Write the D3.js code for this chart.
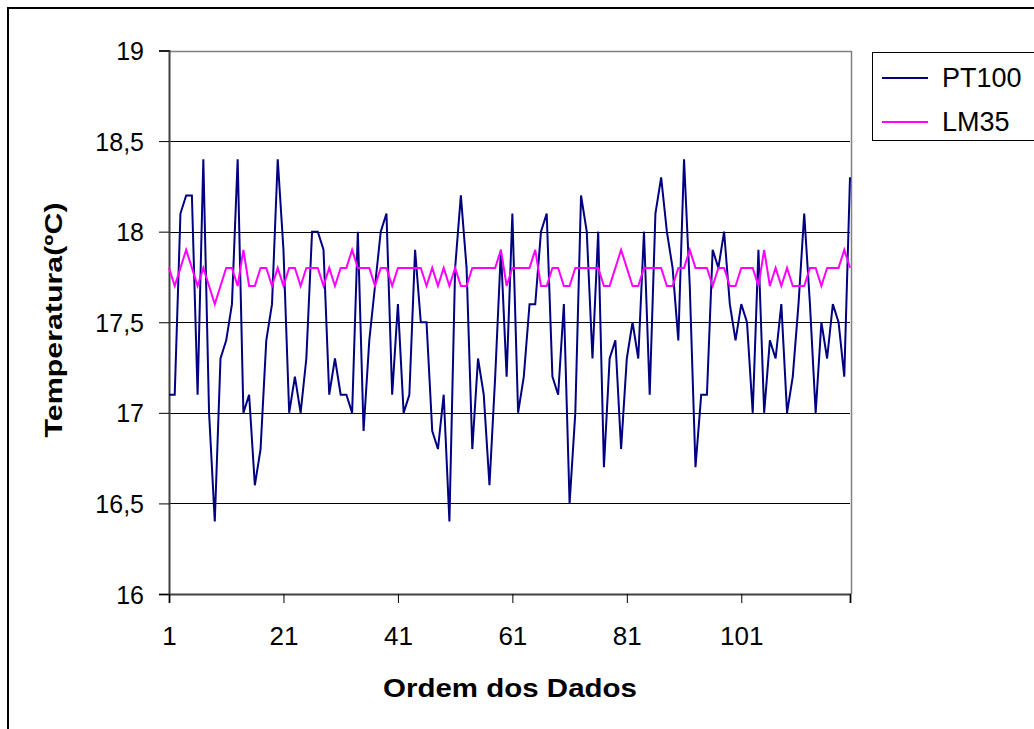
<!DOCTYPE html>
<html>
<head>
  <meta charset="UTF-8">
  <title>Temperatura PT100 x LM35</title>
  <script src="https://cdnjs.cloudflare.com/ajax/libs/d3/7.8.5/d3.min.js"></script>
</head>
<style type="text/css">
body {
  margin: 0;
  background: #fff;
}
svg text {
  font-family: "Liberation Sans", Arial, sans-serif;
  fill: #000;
}
</style>
<body>
  <svg id="chart"></svg>
</body>
<script type="text/javascript">
// Data, 120 samples each
var pt100 = [
  17.1, 17.1, 18.1, 18.2, 18.2, 17.1, 18.4, 17.0, 16.4, 17.3,
  17.4, 17.6, 18.4, 17.0, 17.1, 16.6, 16.8, 17.4, 17.6, 18.4,
  17.9, 17.0, 17.2, 17.0, 17.3, 18.0, 18.0, 17.9, 17.1, 17.3,
  17.1, 17.1, 17.0, 18.0, 16.9, 17.4, 17.7, 18.0, 18.1, 17.1,
  17.6, 17.0, 17.1, 17.9, 17.5, 17.5, 16.9, 16.8, 17.1, 16.4,
  17.8, 18.2, 17.8, 16.8, 17.3, 17.1, 16.6, 17.2, 17.9, 17.2,
  18.1, 17.0, 17.2, 17.6, 17.6, 18.0, 18.1, 17.2, 17.1, 17.6,
  16.5, 17.0, 18.2, 18.0, 17.3, 18.0, 16.7, 17.3, 17.4, 16.8,
  17.3, 17.5, 17.3, 18.0, 17.1, 18.1, 18.3, 18.0, 17.8, 17.4,
  18.4, 17.7, 16.7, 17.1, 17.1, 17.9, 17.8, 18.0, 17.6, 17.4,
  17.6, 17.5, 17.0, 17.9, 17.0, 17.4, 17.3, 17.6, 17.0, 17.2,
  17.6, 18.1, 17.6, 17.0, 17.5, 17.3, 17.6, 17.5, 17.2, 18.3
];

var lm35 = [
  17.8, 17.7, 17.8, 17.9, 17.8, 17.7, 17.8, 17.7, 17.6, 17.7,
  17.8, 17.8, 17.7, 17.9, 17.7, 17.7, 17.8, 17.8, 17.7, 17.8,
  17.7, 17.8, 17.8, 17.7, 17.8, 17.8, 17.8, 17.7, 17.8, 17.7,
  17.8, 17.8, 17.9, 17.8, 17.8, 17.8, 17.7, 17.8, 17.8, 17.7,
  17.8, 17.8, 17.8, 17.8, 17.8, 17.7, 17.8, 17.7, 17.8, 17.7,
  17.8, 17.7, 17.7, 17.8, 17.8, 17.8, 17.8, 17.8, 17.9, 17.7,
  17.8, 17.8, 17.8, 17.8, 17.9, 17.7, 17.7, 17.8, 17.8, 17.7,
  17.7, 17.8, 17.8, 17.8, 17.8, 17.8, 17.7, 17.7, 17.8, 17.9,
  17.8, 17.7, 17.7, 17.8, 17.8, 17.8, 17.8, 17.7, 17.7, 17.8,
  17.8, 17.9, 17.8, 17.8, 17.8, 17.7, 17.8, 17.8, 17.7, 17.7,
  17.8, 17.8, 17.8, 17.7, 17.9, 17.7, 17.8, 17.7, 17.8, 17.7,
  17.7, 17.7, 17.8, 17.8, 17.7, 17.8, 17.8, 17.8, 17.9, 17.8
];

var seriesNames = ["PT100", "LM35"];
var seriesColors = ["#000080", "#ff00ff"];
var xTicks = [1, 21, 41, 61, 81, 101];
var yTicks = [16, 16.5, 17, 17.5, 18, 18.5, 19];

// Size & plot area
var width = 1034,
    height = 729,
    plotLeft = 169, plotRight = 850, plotTop = 50.5, plotBottom = 594;

var svg = d3.select("#chart")
  .attr("width", width)
  .attr("height", height);

// Outer chart frame (runs off the page on right and bottom)
svg.append("rect")
  .attr("x", 8).attr("y", 8)
  .attr("width", 1100).attr("height", 800)
  .attr("fill", "#fff")
  .attr("stroke", "#000")
  .attr("stroke-width", 2);

var x = d3.scaleLinear().domain([1, pt100.length]).range([plotLeft, plotRight]);
var y = d3.scaleLinear().domain([16, 19]).range([plotBottom, plotTop]);

// Gridlines
svg.append("g")
  .selectAll("line")
  .data(yTicks.filter(function (d) { return d > 16 && d < 19; }))
  .enter().append("line")
  .attr("x1", plotLeft).attr("x2", plotRight)
  .attr("y1", function (d) { return Math.round(y(d)) + 0.5; })
  .attr("y2", function (d) { return Math.round(y(d)) + 0.5; })
  .attr("stroke", "#000")
  .attr("stroke-width", 1);

// Plot border (top + right)
svg.append("path")
  .attr("d", "M" + plotLeft + "," + (Math.round(plotTop) + 0.5) + "H" + (plotRight + 1.5) + "V" + plotBottom)
  .attr("fill", "none")
  .attr("stroke", "#808080")
  .attr("stroke-width", 1.5);

// Y axis
var yAxis = d3.axisLeft(y)
  .tickValues(yTicks)
  .tickSize(10)
  .tickPadding(15)
  .tickFormat(function (d) { return String(d).replace(".", ","); });

var gy = svg.append("g")
  .attr("transform", "translate(" + plotLeft + ",0)")
  .call(yAxis);
gy.select(".domain").attr("stroke", "#404040").attr("stroke-width", 2);
gy.selectAll(".tick line").attr("stroke", "#000");
gy.selectAll(".tick text")
  .style("font-size", "25px")
  .attr("dy", "0.36em");

// X axis
var xAxis = d3.axisBottom(x)
  .tickValues(xTicks.concat([pt100.length]))
  .tickSize(9)
  .tickPadding(24)
  .tickFormat(function (d) { return xTicks.indexOf(d) >= 0 ? d : ""; });

var gx = svg.append("g")
  .attr("transform", "translate(0," + plotBottom + ")")
  .call(xAxis);
gx.select(".domain").attr("stroke", "#404040").attr("stroke-width", 2);
gx.selectAll(".tick line").attr("stroke", "#000");
gx.selectAll(".tick text")
  .style("font-size", "26px");

// Lines
var line = d3.line()
  .x(function (d, i) { return x(i + 1); })
  .y(function (d) { return y(d); });

[pt100, lm35].forEach(function (s, k) {
  svg.append("path")
    .datum(s)
    .attr("d", line)
    .attr("fill", "none")
    .attr("stroke", seriesColors[k])
    .attr("stroke-width", 2)
    .attr("stroke-linejoin", "miter");
});

// Axis titles
svg.append("text")
  .attr("x", (383 + 637) / 2)
  .attr("y", 697)
  .attr("text-anchor", "middle")
  .attr("textLength", 254)
  .attr("lengthAdjust", "spacingAndGlyphs")
  .style("font-size", "26px")
  .style("font-weight", "bold")
  .text("Ordem dos Dados");

svg.append("text")
  .attr("transform", "translate(62,320) rotate(-90)")
  .attr("text-anchor", "middle")
  .attr("textLength", 235)
  .attr("lengthAdjust", "spacingAndGlyphs")
  .style("font-size", "24px")
  .style("font-weight", "bold")
  .text("Temperatura(ºC)");

// Legend
var legend = svg.append("g");
legend.append("rect")
  .attr("x", 872.5).attr("y", 52.5)
  .attr("width", 200).attr("height", 88)
  .attr("fill", "#fff")
  .attr("stroke", "#000")
  .attr("stroke-width", 1);

var items = legend.selectAll(".item")
  .data(seriesNames)
  .enter().append("g")
  .attr("class", "item")
  .attr("transform", function (d, i) { return "translate(0," + (78 + i * 44) + ")"; });

items.append("line")
  .attr("x1", 882).attr("x2", 928)
  .attr("stroke", function (d, i) { return seriesColors[i]; })
  .attr("stroke-width", 2);

items.append("text")
  .attr("x", 942)
  .attr("y", 9)
  .style("font-size", "27px")
  .text(function (d) { return d; });
</script>
</html>
